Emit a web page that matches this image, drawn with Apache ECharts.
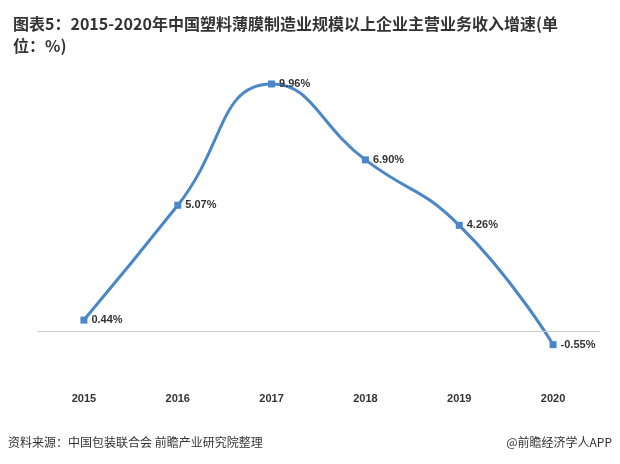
<!DOCTYPE html>
<html><head><meta charset="utf-8">
<script src="https://cdn.jsdelivr.net/npm/echarts@6/dist/echarts.min.js"></script>
<style>html,body{margin:0;padding:0;background:#fff}#c{width:620px;height:464px}</style>
</head><body><div id="c"></div>
<script>
const categories = ['2015','2016','2017','2018','2019','2020'];
const values = [0.44, 5.07, 9.96, 6.90, 4.26, -0.55];
const chart = echarts.init(document.getElementById('c'));
chart.setOption({
  animation:false,
  title:{text:'图表5：2015-2020年中国塑料薄膜制造业规模以上企业主营业务收入增速(单\n位：%)',left:8,top:8,textStyle:{fontSize:16,fontWeight:'bold',color:'#333',lineHeight:22,fontFamily:'Noto Sans CJK SC'}},
  grid:{left:37,right:20,top:83,bottom:83.4},
  xAxis:{type:'category',data:categories,axisLine:{show:false},axisTick:{show:false},
    axisLabel:{margin:13,fontWeight:'bold',fontSize:11,color:'#333'}},
  yAxis:{type:'value',min:-2,max:10,show:false,splitLine:{show:false}},
  series:[{type:'line',data:values,smooth:0.5,symbol:'rect',symbolSize:7,
    lineStyle:{color:'#4a86c8',width:3},itemStyle:{color:'#4a86c8'},
    label:{show:true,position:'right',formatter:p=>p.value.toFixed(2)+'%',fontWeight:'bold',fontSize:11,color:'#333',distance:4},
    markLine:{silent:true,symbol:'none',label:{show:false},lineStyle:{color:'#ccc',type:'solid',width:1},data:[{yAxis:0}]}}],
  graphic:[
    {type:'text',left:8,top:436,style:{text:'资料来源：中国包装联合会 前瞻产业研究院整理',fontSize:12,fill:'#333',fontFamily:'Noto Sans CJK SC'}},
    {type:'text',right:8,top:436,style:{text:'@前瞻经济学人APP',fontSize:12,fill:'#333',fontFamily:'Noto Sans CJK SC'}}
  ]
});
</script></body></html>
